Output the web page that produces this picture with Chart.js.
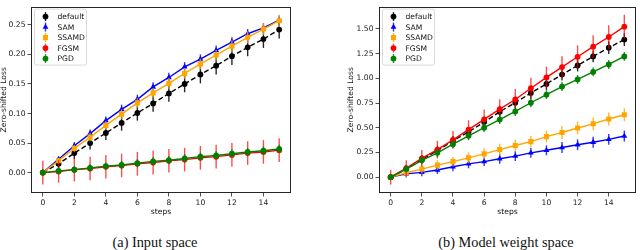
<!DOCTYPE html>
<html><head><meta charset="utf-8">
<script src="https://cdn.jsdelivr.net/npm/chart.js@4"></script>
<style>
body{margin:0;background:#fff;width:640px;height:250px;overflow:hidden;position:relative}
.wrap{position:absolute;top:0;width:320px;height:225px}
.cap{position:absolute;top:233px;font-family:'Liberation Serif','DejaVu Serif',serif;font-size:14.3px;color:#111;transform:translateX(-50%);white-space:nowrap;line-height:18px}
</style></head><body>
<div class="wrap" style="left:0"><canvas id="c1" width="320" height="225"></canvas></div>
<div class="wrap" style="left:320px"><canvas id="c2" width="320" height="225"></canvas></div>
<div class="cap" style="left:155px">(a) Input space</div>
<div class="cap" style="left:506px">(b) Model weight space</div>
<script>
const steps = [0,1,2,3,4,5,6,7,8,9,10,11,12,13,14,15];
const seriesNames = ['default','SAM','SSAMD','FGSM','PGD'];
const xTicks = [0,2,4,6,8,10,12,14];
const yTicksInput = [0.00,0.05,0.10,0.15,0.20,0.25];
const yTicksWeight = [0.00,0.25,0.50,0.75,1.00,1.25,1.50];

// (a) Input space
const inDefault    = [0,0.015,0.033,0.050,0.067,0.084,0.101,0.117,0.134,0.150,0.166,0.181,0.197,0.212,0.226,0.242];
const inDefaultErr = [0.003,0.008,0.010,0.011,0.012,0.013,0.013,0.014,0.014,0.014,0.015,0.015,0.015,0.015,0.015,0.015];
const inSAM        = [0,0.0225,0.0455,0.066,0.088,0.107,0.124,0.145,0.161,0.179,0.192,0.207,0.221,0.235,0.245,0.258];
const inSAMErr     = [0.002,0.005,0.006,0.007,0.007,0.008,0.008,0.008,0.008,0.008,0.008,0.008,0.008,0.008,0.008,0.008];
const inSSAMD      = [0,0.020,0.041,0.060,0.080,0.099,0.118,0.135,0.151,0.168,0.184,0.199,0.214,0.229,0.243,0.257];
const inSSAMDErr   = [0.002,0.005,0.006,0.007,0.007,0.008,0.008,0.008,0.009,0.009,0.009,0.009,0.010,0.010,0.010,0.010];
const inFGSM       = [0,0.002,0.005,0.007,0.010,0.012,0.015,0.017,0.020,0.022,0.025,0.027,0.030,0.033,0.035,0.038];
const inFGSMErr    = [0.020,0.019,0.020,0.020,0.020,0.020,0.020,0.020,0.020,0.020,0.020,0.020,0.020,0.020,0.020,0.020];
const inPGD        = [0,0.003,0.005,0.008,0.011,0.013,0.016,0.019,0.021,0.024,0.027,0.029,0.032,0.035,0.037,0.040];
const inPGDErr     = [0.006,0.006,0.006,0.006,0.006,0.007,0.007,0.007,0.007,0.007,0.007,0.007,0.007,0.007,0.007,0.007];

// (b) Model weight space
const wDefault    = [0,0.082,0.180,0.269,0.367,0.459,0.557,0.662,0.753,0.852,0.943,1.038,1.130,1.222,1.310,1.392];
const wDefaultErr = [0.02,0.04,0.045,0.05,0.05,0.05,0.055,0.055,0.055,0.06,0.06,0.06,0.06,0.06,0.065,0.065];
const wSAM        = [0,0.033,0.049,0.073,0.105,0.135,0.157,0.187,0.213,0.246,0.272,0.300,0.328,0.354,0.383,0.416];
const wSAMErr     = [0.02,0.035,0.04,0.04,0.045,0.045,0.045,0.05,0.05,0.05,0.05,0.055,0.055,0.055,0.055,0.055];
const wSSAMD      = [0,0.045,0.082,0.122,0.157,0.196,0.236,0.279,0.321,0.360,0.410,0.452,0.498,0.540,0.589,0.632];
const wSSAMDErr   = [0.02,0.04,0.045,0.05,0.05,0.055,0.055,0.06,0.06,0.06,0.06,0.065,0.065,0.065,0.065,0.065];
const wFGSM       = [0,0.092,0.190,0.279,0.377,0.481,0.585,0.688,0.786,0.900,1.009,1.114,1.218,1.320,1.418,1.523];
const wFGSMErr    = [0.075,0.08,0.085,0.09,0.09,0.095,0.1,0.1,0.105,0.105,0.11,0.11,0.115,0.115,0.12,0.12];
const wPGD        = [0,0.082,0.171,0.246,0.334,0.419,0.501,0.583,0.665,0.753,0.835,0.917,0.989,1.065,1.140,1.222];
const wPGDErr     = [0.02,0.035,0.04,0.04,0.04,0.045,0.045,0.045,0.045,0.045,0.045,0.045,0.045,0.045,0.045,0.045];

const COLORS = ['#000000','#0000ff','#ffa500','#ff0000','#008000'];
const ERRCOLORS = ['rgba(0,0,0,0.85)','rgba(0,0,255,0.8)','rgba(255,165,0,0.8)','rgba(255,0,0,0.7)','rgba(0,128,0,0.85)'];
const STYLES = ['circle','triangle','rect','circle','circle'];
const RADII = [2.9,3.4,3.6,2.9,2.9];
const FONT = {family:'DejaVu Sans', size:7.6};

function mkDatasets(vals, errs){
  return vals.map((v,i)=>({
    label: seriesNames[i],
    order: 4 - i,
    data: steps.map((s,k)=>({x:s,y:v[k]})),
    errors: errs[i],
    errColor: ERRCOLORS[i],
    borderColor: COLORS[i],
    backgroundColor: COLORS[i],
    pointBackgroundColor: COLORS[i],
    pointBorderColor: COLORS[i],
    pointBorderWidth: 0,
    pointStyle: STYLES[i],
    pointRadius: RADII[i],
    borderWidth: 1.4,
    borderDash: i===0 ? [5,2.6] : [],
    tension: 0,
    fill: false
  }));
}

const errPlugin = {
  id:'errbars',
  beforeDatasetDraw(chart, args){
    const ds = chart.data.datasets[args.index];
    const ys = chart.scales.y, xs = chart.scales.x;
    const ctx = chart.ctx;
    ctx.save();
    ctx.strokeStyle = ds.errColor;
    ctx.lineWidth = 1.4;
    ds.data.forEach((p,k)=>{
      const e = ds.errors[k];
      const px = xs.getPixelForValue(p.x);
      ctx.beginPath();
      ctx.moveTo(px, ys.getPixelForValue(p.y - e));
      ctx.lineTo(px, ys.getPixelForValue(p.y + e));
      ctx.stroke();
    });
    ctx.restore();
  }
};

const framePlugin = {
  id:'frame',
  afterDraw(chart){
    const a = chart.chartArea, ctx = chart.ctx;
    ctx.save();
    ctx.strokeStyle = '#262626';
    ctx.lineWidth = 1;
    ctx.strokeRect(Math.round(a.left)+0.5, Math.round(a.top)+0.5, Math.round(a.right-a.left)-1, Math.round(a.bottom-a.top)-1);
    const lx = a.left + 3.5, ly = a.top + 2.5, lw = 52, lh = 56;
    ctx.fillStyle = 'rgba(255,255,255,0.85)';
    ctx.strokeStyle = '#d0d0d0';
    ctx.lineWidth = 0.8;
    ctx.beginPath();
    ctx.roundRect(lx, ly, lw, lh, 2);
    ctx.fill(); ctx.stroke();
    ctx.font = '7.6px "DejaVu Sans"';
    ctx.textBaseline = 'middle';
    ctx.textAlign = 'left';
    seriesNames.forEach((n,i)=>{
      const cy = ly + 7.5 + i*10.5;
      const cx = lx + 11;
      ctx.strokeStyle = ERRCOLORS[i];
      ctx.lineWidth = 1.4;
      ctx.beginPath(); ctx.moveTo(cx, cy-4.5); ctx.lineTo(cx, cy+4.5); ctx.stroke();
      ctx.fillStyle = COLORS[i];
      ctx.strokeStyle = COLORS[i];
      ctx.lineWidth = 0;
      Chart.helpers.drawPoint(ctx, {pointStyle: STYLES[i], radius: RADII[i], borderWidth: 0}, cx, cy);
      ctx.fillStyle = '#111';
      ctx.fillText(n, lx + 23, cy + 0.5);
    });
    ctx.restore();
  }
};

function mkChart(id, vals, errs, yMin, yMax, yTicks, padLeft, padRight, yWidth){
  return new Chart(document.getElementById(id), {
    type:'line',
    data:{datasets: mkDatasets(vals, errs)},
    options:{
      responsive:false, animation:false, devicePixelRatio:1,
      layout:{padding:{left:padLeft, right:padRight, top:1, bottom:0}},
      plugins:{legend:{display:false}, tooltip:{enabled:false}},
      scales:{
        x:{type:'linear', min:-0.75, max:15.75,
           afterFit(s){s.height=32;},
           afterBuildTicks(s){s.ticks = xTicks.map(v=>({value:v}));},
           ticks:{font:FONT, color:'#222', padding:1.5, maxRotation:0, includeBounds:false, autoSkip:false, callback:v=>String(v)},
           grid:{drawOnChartArea:false, tickLength:3.5, color:'#262626', tickWidth:0.8},
           border:{display:false},
           title:{display:true, text:'steps', font:FONT, color:'#111', padding:{top:0,bottom:8.4}}},
        y:{type:'linear', min:yMin, max:yMax,
           afterFit(s){s.width=yWidth;},
           afterBuildTicks(s){s.ticks = yTicks.map(v=>({value:v}));},
           ticks:{font:FONT, color:'#222', padding:2, autoSkip:false, callback:v=>Number(v).toFixed(2)},
           grid:{drawOnChartArea:false, tickLength:3.5, color:'#262626', tickWidth:0.8},
           border:{display:false},
           title:{display:true, text:'Zero-shifted Loss', font:FONT, color:'#111', padding:{top:-1,bottom:0}}}
      }
    },
    plugins:[errPlugin, framePlugin]
  });
}

mkChart('c1',
  [inDefault,inSAM,inSSAMD,inFGSM,inPGD],
  [inDefaultErr,inSAMErr,inSSAMDErr,inFGSMErr,inPGDErr],
  -0.0345, 0.281, yTicksInput, 0, 29, 31);
mkChart('c2',
  [wDefault,wSAM,wSSAMD,wFGSM,wPGD],
  [wDefaultErr,wSAMErr,wSSAMDErr,wFGSMErr,wPGDErr],
  -0.160, 1.726, yTicksWeight, 27, 0.5, 32);
</script>
</body></html>
